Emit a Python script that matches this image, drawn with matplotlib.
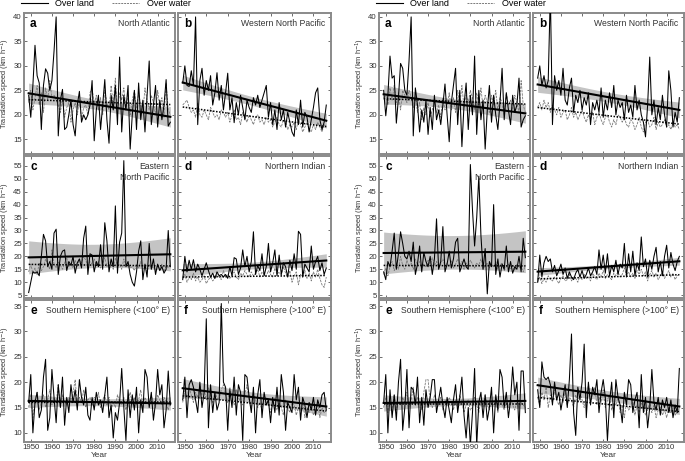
import numpy as np
import matplotlib.pyplot as plt
from matplotlib.lines import Line2D

plt.rcParams['font.family'] = ['Liberation Sans', 'DejaVu Sans']

years = np.arange(1949, 2017)

# ---- left block ----
na_land_l = [24.0, 19.5, 26.0, 34.2, 28.0, 26.5, 17.0, 26.0, 29.4, 28.5,
             25.0, 27.0, 33.0, 40.0, 15.7, 23.0, 25.2, 17.0, 17.5, 20.0,
             23.0, 18.0, 15.7, 22.0, 24.8, 18.5, 20.0, 19.0, 20.0, 22.0,
             27.0, 14.7, 21.0, 24.0, 17.0, 22.0, 27.2, 19.0, 14.2, 24.0,
             21.0, 26.0, 18.0, 31.8, 16.5, 24.0, 21.0, 26.0, 13.0, 20.0,
             25.0, 17.0, 26.5, 19.0, 23.0, 16.5, 24.0, 31.0, 18.0, 22.0,
             26.0, 17.5, 23.0, 19.0, 22.0, 27.2, 17.7, 18.5]
na_water_l = [22.5, 25.0, 21.0, 23.5, 26.0, 22.0, 24.5, 20.5, 25.5, 23.0,
              27.0, 23.5, 24.0, 23.0, 22.0, 20.5, 23.5, 19.5, 21.5, 22.5,
              18.5, 21.0, 22.5, 20.0, 23.0, 19.0, 21.5, 22.0, 20.0, 24.5,
              25.5, 22.0, 24.0, 21.0, 23.5, 20.0, 25.0, 22.5, 21.0, 26.0,
              22.0, 27.5, 20.5, 24.5, 23.0, 25.5, 21.5, 24.0, 20.0, 23.0,
              25.0, 21.5, 24.5, 22.0, 20.5, 25.5, 23.0, 21.0, 24.0, 22.5,
              20.0, 25.0, 21.5, 23.5, 19.5, 26.5, 21.0, 20.0]
wnp_land_l = [26.5, 30.0, 26.0, 25.8, 29.0, 26.0, 40.0, 18.0, 27.0, 29.5,
              24.0, 27.0, 25.0, 28.0, 22.0, 24.5, 28.6, 23.0, 26.0, 21.0,
              24.5, 28.5, 21.0, 23.5, 18.4, 22.5, 20.0, 24.0, 21.5, 19.0,
              23.0, 21.5, 20.5, 23.5, 22.0, 24.0, 21.5, 23.0, 24.5, 26.0,
              19.5, 22.5, 18.0, 21.0, 17.0, 22.5, 19.0, 21.0, 17.5, 20.5,
              18.5, 16.5, 15.6, 21.0, 18.0, 23.0, 17.5, 20.5, 19.5, 16.5,
              19.0, 21.5, 24.5, 25.5, 19.0, 17.0, 18.5, 22.0]
wnp_water_l = [22.0, 22.5, 23.0, 21.5, 20.5, 21.0, 19.5, 22.5, 20.0, 19.5,
               21.0, 20.0, 19.0, 21.5, 20.5, 19.5, 20.0, 19.0, 21.0, 20.5,
               19.5, 20.5, 18.5, 20.0, 21.0, 19.0, 19.5, 18.0, 20.5, 19.5,
               18.5, 20.0, 19.0, 18.0, 19.5, 20.0, 18.5, 19.0, 18.0, 19.5,
               18.5, 19.0, 17.5, 18.5, 19.5, 18.0, 17.5, 19.0, 18.5, 17.0,
               18.0, 17.5, 18.5, 17.0, 19.0, 18.0, 16.5, 17.5, 18.5, 17.0,
               16.5, 18.0, 17.0, 18.5, 17.5, 16.5, 18.0, 17.5]
enp_land_l = [6.0, 10.0, 14.0, 13.5, 14.0, 12.5, 20.0, 28.5, 26.0, 16.0,
              18.0, 15.0, 29.0, 30.5, 13.0, 20.0, 22.0, 22.5, 14.5, 18.0,
              16.5, 20.0, 13.5, 17.5, 19.0, 15.5, 27.0, 31.7, 13.0, 21.0,
              20.5, 14.0, 18.0, 16.0, 24.5, 15.0, 33.0, 26.0, 14.0, 19.0,
              16.0, 39.5, 13.5, 25.5, 29.0, 57.0, 16.0, 18.0, 13.0, 10.0,
              8.5, 14.0, 22.0, 26.0, 11.0, 17.0, 12.0, 25.0, 15.0, 19.0,
              13.0, 17.0, 14.5, 16.0, 13.5, 15.0, 30.0, 16.0]
enp_water_l = [14.0, 17.0, 13.5, 15.5, 13.0, 17.5, 14.5, 16.0, 19.0, 17.0,
               15.0, 22.5, 17.0, 15.5, 18.0, 16.5, 15.0, 17.5, 19.5, 16.0,
               17.0, 15.5, 18.5, 16.0, 19.0, 17.5, 20.0, 18.5, 16.5, 18.0,
               17.0, 19.0, 16.5, 18.0, 15.5, 17.0, 19.5, 16.0, 18.0, 17.5,
               15.0, 19.5, 16.5, 17.0, 15.0, 19.0, 16.5, 17.5, 15.5, 16.0,
               14.5, 17.0, 15.5, 18.0, 15.0, 16.5, 14.0, 17.0, 15.5, 16.0,
               14.5, 16.5, 15.0, 17.0, 14.0, 16.5, 15.5, 17.0]
ni_land_l = [11.0, 20.0, 14.0, 18.5, 15.0, 18.7, 14.0, 17.0, 15.0, 12.5,
             15.0, 17.5, 14.5, 12.0, 13.5, 11.5, 14.0, 12.5, 13.0, 12.0,
             13.0, 11.5, 16.0, 12.5, 19.5, 19.0, 13.0, 15.5, 22.5, 16.0,
             20.0, 14.0, 18.0, 29.5, 13.0, 16.5, 14.5, 21.0, 12.5, 16.0,
             25.0, 14.0, 17.5, 22.5, 12.5, 20.5, 13.0, 17.5, 16.0, 12.0,
             18.5, 14.5, 21.0, 15.0, 29.7, 28.5, 12.0, 17.0, 15.5, 14.0,
             24.0, 15.0, 18.0, 20.0, 14.5, 17.5, 13.0, 15.5]
ni_water_l = [11.5, 13.0, 10.0, 12.0, 11.0, 13.5, 10.5, 12.0, 10.0, 11.0,
              12.5, 9.5, 11.0, 12.0, 10.5, 11.5, 13.0, 12.0, 11.0, 14.5,
              12.0, 13.0, 11.5, 12.5, 14.0, 12.0, 11.0, 13.5, 12.5, 14.5,
              13.0, 12.0, 14.0, 12.5, 13.5, 15.0, 12.0, 14.0, 13.0, 12.5,
              14.5, 13.0, 12.0, 15.5, 13.0, 14.0, 12.5, 16.0, 13.5, 12.0,
              14.5, 10.0, 12.5, 14.0, 9.0, 13.0, 12.0, 14.5, 11.5, 13.5,
              10.5, 14.0, 12.0, 15.0, 11.5, 9.0, 8.0, 12.0]
shw_land_l = [16.0, 21.5, 10.0, 16.0, 18.0, 13.0, 14.5, 21.0, 24.5, 10.5,
              13.0, 22.5, 17.0, 12.0, 19.5, 15.0, 21.0, 11.5, 17.0, 14.0,
              19.5, 16.0, 18.5, 14.5, 20.5, 17.0, 15.5, 19.0, 13.5, 12.5,
              17.0, 14.5, 18.0, 15.5, 16.5, 14.0, 17.5, 21.0, 13.0, 15.5,
              9.0, 14.0, 12.5, 16.0, 22.7, 15.0, 8.5, 18.5, 13.0, 17.5,
              14.5, 19.0, 10.0, 16.5, 14.0, 22.5, 21.0, 15.0, 18.0, 12.5,
              16.0, 22.5, 17.5, 19.5, 11.0, 14.5, 22.2, 15.5]
shw_water_l = [15.0, 17.5, 13.0, 16.5, 18.0, 14.5, 16.0, 17.5, 15.0, 16.5,
               18.5, 15.5, 17.0, 16.0, 19.5, 15.0, 17.5, 16.0, 15.5, 17.0,
               16.5, 18.0, 20.5, 15.5, 17.0, 16.0, 18.5, 15.0, 16.5, 17.0,
               15.5, 17.0, 16.0, 18.0, 15.0, 16.5, 17.5, 15.5, 17.0, 14.5,
               16.0, 15.0, 17.5, 16.0, 15.5, 17.0, 14.5, 16.5, 18.0, 15.5,
               17.0, 15.5, 16.5, 18.5, 15.0, 17.0, 16.0, 15.5, 17.5, 16.0,
               15.0, 17.5, 16.5, 15.5, 17.0, 16.0, 14.5, 16.5]
she_land_l = [16.5, 21.0, 13.0, 19.5, 20.5, 19.0, 16.5, 14.0, 20.0, 15.0,
              18.0, 32.5, 11.0, 19.5, 14.0, 18.0, 14.5, 16.0, 35.5, 20.0,
              19.0, 10.5, 18.5, 15.0, 21.0, 13.5, 19.5, 18.0, 8.5, 21.5,
              21.0, 17.0, 14.0, 19.0, 10.0, 17.5, 20.5, 13.0, 18.0, 15.5,
              16.5, 12.0, 17.0, 14.0, 19.0, 13.5, 21.5, 18.0, 10.5, 16.0,
              15.0, 14.0, 21.5, 16.5, 19.0, 12.5, 17.0, 15.5, 13.0, 16.0,
              14.5, 17.0, 13.5, 16.5, 15.0, 17.5, 18.0, 14.5]
she_water_l = [16.0, 18.5, 17.0, 19.0, 17.5, 16.0, 18.0, 17.0, 19.5, 17.5,
               18.5, 16.5, 19.0, 17.5, 16.0, 18.0, 17.0, 16.5, 18.5, 19.5,
               17.5, 16.0, 19.0, 17.0, 15.5, 18.5, 17.0, 16.0, 15.5, 17.5,
               19.5, 16.0, 15.0, 17.5, 16.5, 15.0, 16.0, 14.5, 17.0, 15.5,
               16.5, 14.0, 15.5, 17.0, 14.5, 16.0, 15.0, 13.5, 16.5, 15.0,
               14.0, 16.0, 15.5, 13.5, 15.0, 14.5, 16.5, 13.0, 15.0, 14.0,
               15.5, 13.5, 14.5, 16.0, 13.0, 15.0, 14.0, 14.5]

# ---- right block ----
na_land_r = [25.0, 19.8, 24.0, 32.0, 27.5, 28.0, 18.3, 23.5, 30.5, 29.5,
             25.0, 24.0, 31.0, 40.0, 15.7, 25.5, 22.0, 16.5, 21.0, 18.5,
             23.0, 16.0, 21.5, 17.0, 24.0, 19.0, 21.0, 18.0, 22.0, 26.3,
             20.0, 14.5, 22.5, 26.0, 29.5, 18.0, 25.0, 13.5, 22.0, 26.5,
             17.0, 24.0, 20.0, 32.0, 16.0, 25.0, 19.0, 23.0, 13.0, 21.0,
             26.0, 18.5, 24.0, 20.0, 17.0, 22.5, 29.5, 19.0, 24.5, 21.0,
             18.0, 24.0, 20.5, 22.0, 27.5, 17.5, 19.0, 19.8]
na_water_r = [23.5, 24.0, 22.0, 25.5, 23.0, 26.0, 22.5, 24.5, 21.0, 25.0,
              24.0, 22.5, 25.0, 23.5, 21.5, 24.0, 20.5, 22.5, 19.0, 21.5,
              20.0, 22.5, 19.5, 21.0, 23.0, 20.5, 22.0, 19.5, 23.5, 21.0,
              22.0, 24.5, 21.0, 23.5, 20.5, 25.0, 22.0, 26.0, 21.5, 24.0,
              22.5, 25.0, 23.5, 21.0, 24.5, 22.0, 25.5, 21.5, 24.0, 22.5,
              20.5, 24.0, 22.0, 25.0, 21.0, 23.5, 22.5, 20.0, 24.5, 22.0,
              23.0, 21.0, 24.0, 22.5, 20.5, 27.0, 22.0, 20.5]
wnp_land_r = [27.5, 30.0, 26.0, 28.0, 25.5, 27.0, 45.0, 18.0, 28.0, 25.0,
              27.0, 24.0, 29.5, 23.0, 22.0, 25.5, 27.5, 20.5, 24.0, 22.5,
              25.0, 21.0, 23.5, 22.0, 24.5, 18.0, 22.5, 21.0, 23.0, 20.5,
              25.5, 19.5, 23.0, 21.0, 24.5, 21.5, 26.0, 20.0, 23.0, 21.5,
              22.5, 19.0, 24.0, 20.5, 22.0, 19.5, 26.0, 21.0, 23.0, 20.0,
              18.5, 15.5, 22.0, 31.8, 20.0, 23.0, 18.0, 21.5, 19.0, 24.0,
              20.0, 17.5, 29.0, 25.0, 17.5, 20.5, 18.5, 23.5]
wnp_water_r = [21.5, 22.5, 21.0, 23.0, 21.5, 22.5, 20.5, 22.0, 21.0, 20.0,
               21.5, 19.5, 20.5, 21.0, 19.0, 20.0, 21.5, 19.5, 20.5, 19.0,
               20.0, 21.0, 19.5, 18.5, 20.0, 19.0, 20.5, 18.0, 19.5, 20.5,
               19.0, 18.0, 19.5, 20.0, 18.5, 17.5, 19.0, 18.0, 20.0, 19.5,
               18.5, 19.5, 18.0, 17.5, 19.0, 18.5, 17.0, 18.0, 19.5, 17.5,
               16.5, 18.5, 19.0, 17.5, 18.0, 19.5, 17.0, 18.5, 17.5, 18.0,
               19.0, 17.5, 18.0, 17.0, 18.5, 17.5, 18.0, 17.0]
enp_land_r = [14.0, 11.0, 18.0, 16.0, 22.0, 29.0, 15.0, 21.0, 29.5, 25.0,
              20.0, 19.0, 22.0, 18.0, 25.5, 13.0, 17.0, 24.0, 14.0, 21.5,
              18.0, 16.0, 20.0, 13.0, 19.0, 34.5, 15.0, 18.0, 31.5, 14.0,
              17.0, 22.0, 15.5, 19.0, 25.5, 27.0, 14.0, 16.5, 19.0, 16.0,
              15.0, 55.5, 38.0, 24.0, 35.0, 51.0, 28.0, 15.0, 23.0, 5.5,
              18.0, 16.0, 40.0, 13.0, 19.0, 12.0, 17.0, 15.0, 24.0, 14.0,
              18.0, 13.5, 16.0, 15.0, 20.0, 14.0, 27.0, 19.5]
enp_water_r = [13.0, 15.5, 12.5, 16.0, 18.0, 14.5, 17.0, 15.0, 20.0, 16.5,
               15.0, 18.5, 16.0, 17.5, 15.0, 19.0, 16.5, 18.0, 15.5, 17.0,
               16.0, 18.5, 17.0, 19.5, 16.5, 18.0, 15.5, 17.0, 19.0, 16.0,
               17.5, 16.0, 18.5, 15.5, 17.0, 19.0, 16.5, 18.0, 15.0, 17.5,
               16.0, 18.5, 17.0, 15.5, 17.5, 16.5, 19.0, 15.0, 16.5, 17.5,
               15.5, 17.0, 16.0, 18.0, 15.0, 16.5, 17.5, 14.5, 16.0, 17.0,
               15.0, 16.5, 14.5, 17.0, 15.5, 16.0, 14.0, 16.5]
ni_land_r = [10.0, 20.5, 12.0, 17.5, 20.0, 18.0, 19.0, 14.0, 16.5, 12.5,
             14.5, 17.0, 13.0, 15.5, 11.5, 14.0, 12.0, 11.0, 13.5, 15.0,
             12.0, 14.5, 11.5, 13.0, 15.5, 12.5, 14.0, 16.0, 13.0, 22.5,
             15.0, 20.5, 13.5, 21.0, 12.5, 16.5, 14.0, 18.5, 13.0, 17.0,
             15.5, 25.0, 12.0, 21.0, 14.0, 22.0, 12.5, 17.5, 14.5, 27.5,
             16.0, 19.0, 12.0, 18.5, 15.0, 20.0, 23.5, 14.0, 18.0, 12.5,
             20.0, 24.3, 15.5, 21.5, 17.0, 14.5, 18.0, 20.0]
ni_water_r = [10.0, 12.0, 9.5, 11.5, 10.0, 12.5, 11.0, 10.5, 12.0, 11.0,
              9.5, 11.5, 12.5, 10.5, 11.0, 13.0, 10.5, 12.0, 11.5, 10.0,
              12.5, 11.0, 13.0, 11.5, 12.0, 10.5, 13.5, 12.0, 11.0, 13.5,
              12.0, 14.5, 11.5, 13.0, 12.0, 11.0, 13.5, 12.5, 14.0, 12.0,
              13.0, 15.5, 12.5, 14.0, 12.0, 13.5, 11.5, 14.5, 13.0, 15.0,
              12.5, 14.0, 10.5, 13.0, 14.5, 12.0, 13.5, 11.0, 12.5, 14.0,
              11.5, 13.0, 14.5, 12.0, 13.5, 11.0, 12.5, 13.0]
shw_land_r = [16.0, 21.5, 10.0, 18.5, 13.0, 17.5, 12.5, 20.0, 24.5, 10.5,
              15.0, 22.5, 11.0, 19.0, 18.5, 15.5, 21.0, 12.0, 17.0, 11.5,
              18.5, 15.0, 17.0, 20.5, 20.5, 14.0, 16.5, 19.0, 15.5, 13.0,
              17.0, 14.5, 12.0, 16.5, 19.5, 14.0, 17.0, 21.0, 13.5, 9.0,
              15.0, 7.5, 14.0, 22.7, 7.5, 16.0, 18.0, 13.0, 17.5, 12.5,
              15.0, 19.0, 10.0, 17.5, 14.5, 22.5, 21.0, 15.0, 18.0, 13.0,
              16.5, 23.0, 17.5, 20.0, 10.5, 22.2, 22.2, 14.0]
shw_water_r = [15.0, 17.0, 14.0, 16.5, 15.0, 17.5, 14.5, 16.0, 15.5, 17.0,
               16.0, 18.0, 15.0, 16.5, 19.0, 15.5, 17.0, 16.0, 14.5, 18.0,
               20.5, 20.5, 16.0, 15.0, 17.5, 16.0, 15.5, 17.0, 14.5, 16.5,
               15.5, 17.0, 16.0, 14.5, 16.5, 15.0, 17.5, 16.0, 14.0, 15.5,
               16.5, 14.5, 15.0, 17.0, 15.5, 14.0, 16.5, 15.0, 17.5, 15.5,
               14.5, 16.0, 15.5, 17.0, 14.0, 16.5, 15.5, 14.5, 16.0, 15.0,
               17.0, 15.5, 14.5, 16.5, 15.0, 16.0, 15.5, 15.0]
she_land_r = [18.5, 15.0, 24.0, 21.0, 20.5, 21.0, 19.5, 15.5, 20.0, 16.5,
              18.0, 14.5, 17.0, 19.5, 15.0, 20.5, 29.5, 14.0, 9.5, 19.0,
              16.5, 20.0, 27.5, 13.0, 20.0, 15.5, 19.0, 17.5, 20.5, 14.0,
              18.0, 20.5, 17.0, 8.5, 16.0, 20.0, 13.0, 20.5, 17.0, 15.5,
              12.0, 18.0, 15.5, 20.5, 19.5, 14.0, 16.5, 18.0, 11.0, 21.5,
              14.0, 17.0, 11.0, 15.0, 22.5, 16.0, 14.5, 17.0, 13.5, 16.5,
              15.0, 17.0, 14.0, 16.5, 13.0, 15.5, 14.0, 22.7]
she_water_r = [17.0, 15.5, 18.0, 16.5, 19.0, 15.0, 17.5, 16.0, 18.5, 16.5,
               15.5, 17.5, 16.0, 18.0, 15.5, 17.0, 16.5, 15.0, 17.5, 16.0,
               18.0, 16.5, 15.0, 17.0, 19.5, 16.0, 17.5, 19.0, 15.5, 17.0,
               16.0, 18.5, 15.0, 16.5, 17.5, 14.5, 16.0, 15.5, 17.0, 14.0,
               15.5, 13.0, 16.0, 14.5, 15.0, 16.5, 13.5, 15.5, 14.0, 16.0,
               15.0, 13.5, 14.5, 16.0, 14.0, 15.5, 13.0, 14.5, 15.0, 13.5,
               14.5, 13.0, 15.0, 14.0, 15.5, 13.5, 14.0, 15.0]

# regression lines (1949 value, 2016 value), panels a-f
land_trend_l = [(24.4, 19.6), (26.6, 18.8), (19.6, 20.8), (14.6, 18.4), (16.3, 15.8), (18.8, 15.2)]
water_trend_l = [(23.1, 22.1), (21.6, 17.6), (16.9, 16.3), (12.0, 12.6), (16.0, 16.1), (17.3, 14.3)]
land_trend_r = [(24.2, 20.3), (26.2, 21.0), (21.3, 21.8), (14.1, 18.1), (15.9, 16.3), (19.4, 15.2)]
water_trend_r = [(23.3, 22.2), (21.5, 18.1), (16.5, 16.3), (11.3, 12.9), (15.6, 15.6), (17.0, 14.2)]
# confidence band half-width (middle, ends)
band_l = [(1.0, 2.1), (0.9, 1.5), (4.5, 6.4), (1.3, 2.6), (0.7, 1.3), (1.0, 1.9)]
band_r = [(1.0, 2.0), (1.0, 1.6), (6.5, 8.1), (0.8, 1.5), (0.7, 1.6), (1.0, 1.6)]

letters = ['a', 'b', 'c', 'd', 'e', 'f']
regions = ['North Atlantic', 'Western North Pacific', 'Eastern\nNorth Pacific',
           'Northern Indian', 'Southern Hemisphere (<100° E)', 'Southern Hemisphere (>100° E)']

land_l = [na_land_l, wnp_land_l, enp_land_l, ni_land_l, shw_land_l, she_land_l]
water_l = [na_water_l, wnp_water_l, enp_water_l, ni_water_l, shw_water_l, she_water_l]
land_r = [na_land_r, wnp_land_r, enp_land_r, ni_land_r, shw_land_r, she_land_r]
water_r = [na_water_r, wnp_water_r, enp_water_r, ni_water_r, shw_water_r, she_water_r]

W, H = 685, 461
fig = plt.figure(figsize=(W / 100, H / 100), dpi=100)

cols = [(24, 175), (178, 331), (379, 530), (533, 684)]
rows = [(13, 154), (156, 298), (300, 442)]
ylims = [(12, 40.8), (3.9, 58.8), (8.2, 36.2)]
yticks = [np.arange(15, 41, 5), np.arange(5, 56, 5), np.arange(10, 36, 5)]

ylab = 'Translation speed (km h$^{-1}$)'
spine_col = '#8a8a8a'

t = (years - years.mean()) / (years[-1] - years.mean())

blocks = [(0, land_l, water_l, land_trend_l, water_trend_l, band_l),
          (2, land_r, water_r, land_trend_r, water_trend_r, band_r)]

for c0, lands, waters, ltr, wtr, bands in blocks:
    for k in range(6):
        r, c = divmod(k, 2)
        x0, x1 = cols[c0 + c]
        y0, y1 = rows[r]
        ax = fig.add_axes([x0 / W, 1 - y1 / H, (x1 - x0) / W, (y1 - y0) / H])

        mid, end = bands[k]
        lt = ltr[k][0] + (ltr[k][1] - ltr[k][0]) * (years - years[0]) / (years[-1] - years[0])
        wt = wtr[k][0] + (wtr[k][1] - wtr[k][0]) * (years - years[0]) / (years[-1] - years[0])
        hw = np.sqrt(mid ** 2 + (end ** 2 - mid ** 2) * t ** 2)

        ax.fill_between(years, lt - hw, lt + hw, color='#c4c4c4', lw=0, zorder=1)
        ax.plot(years, waters[k], color='#7a7a7a', lw=0.6, ls=(0, (3, 1.2)), zorder=2)
        ax.plot(years, lands[k], color='black', lw=0.75, zorder=3)
        ax.plot(years, wt, color='black', lw=1.1, ls=(0, (1, 1)), zorder=4)
        ax.plot(years, lt, color='black', lw=1.5, zorder=5)

        ax.set_xlim(1946.8, 2018.2)
        ax.set_ylim(*ylims[r])
        ax.set_xticks(np.arange(1950, 2011, 10))
        ax.set_yticks(yticks[r])
        ax.tick_params(direction='in', length=2, width=0.6, color='#555555',
                       top=True, right=True, labelsize=5.6, labelcolor='#333333', pad=1.5)
        for s in ax.spines.values():
            s.set_color(spine_col)
            s.set_linewidth(1.4)

        if c == 1:
            ax.tick_params(labelleft=False)
        else:
            ax.set_ylabel(ylab, fontsize=5.3, color='#333333')
            ax.yaxis.set_label_coords(-11.5 / (x1 - x0), 0.5)
        if r < 2:
            ax.tick_params(labelbottom=False)
        else:
            ax.set_xlabel('Year', fontsize=6, color='#333333', labelpad=0.5)

        ax.text(0.04, 0.965, letters[k], transform=ax.transAxes, fontsize=8.5,
                fontweight='bold', va='top', ha='left')
        ax.text(0.965, 0.955, regions[k], transform=ax.transAxes, fontsize=6.2,
                va='top', ha='right', color='#333333', linespacing=1.3)

    lx = cols[c0][0]
    handles = [Line2D([], [], color='black', lw=0.8),
               Line2D([], [], color='#7a7a7a', lw=0.7, ls=(0, (2, 1)))]
    fig.legend(handles, ['Over land', 'Over water'], loc='center left',
               bbox_to_anchor=((lx - 3) / W, 1 - 4 / H), ncol=2, frameon=False,
               fontsize=6.5, handlelength=3.0, columnspacing=2.0, handletextpad=0.8,
               borderaxespad=0, borderpad=0)

fig.savefig('out.png', dpi=100)
